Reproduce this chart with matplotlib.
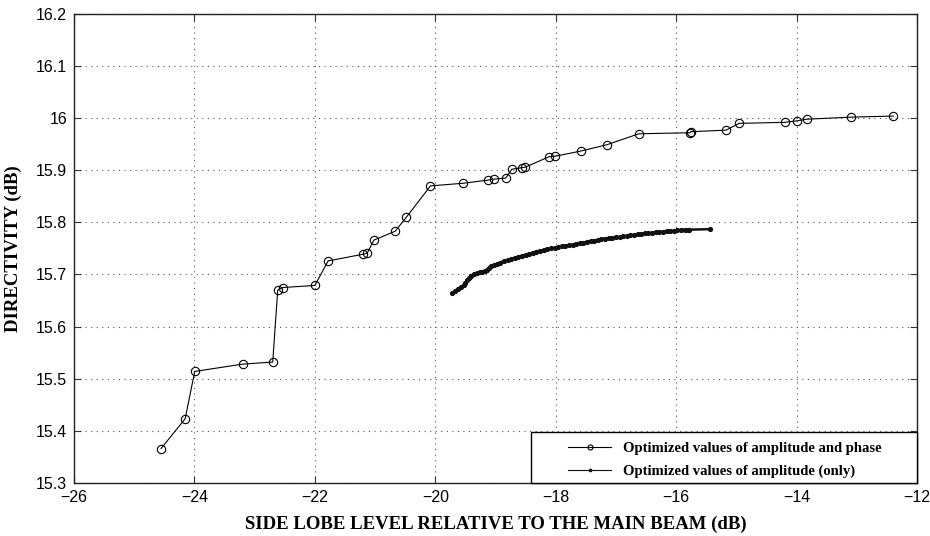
import matplotlib
matplotlib.use("Agg")
import matplotlib.pyplot as plt
from matplotlib.patches import Rectangle

# amplitude and phase optimised
sll_phase = [-24.555, -24.155, -23.995, -23.2, -22.70, -22.617, -22.53, -22.0, -21.78,
             -21.195, -21.13, -21.02, -20.667, -20.48, -20.08, -19.545, -19.13, -19.02,
             -18.83, -18.73, -18.56, -18.505, -18.11, -18.005, -17.58, -17.15, -16.62,
             -15.77, -15.76, -15.17, -14.955, -14.19, -13.99, -13.83, -13.09, -12.39]
dir_phase = [15.366, 15.423, 15.514, 15.528, 15.532, 15.670, 15.675, 15.679, 15.726,
             15.739, 15.741, 15.766, 15.783, 15.810, 15.870, 15.875, 15.881, 15.883,
             15.885, 15.902, 15.905, 15.906, 15.926, 15.927, 15.937, 15.949, 15.970,
             15.972, 15.974, 15.977, 15.990, 15.992, 15.995, 15.998, 16.002, 16.004]

# amplitude only
sll_amp = [-19.72, -19.67, -19.62, -19.57, -19.53, -19.50, -19.47, -19.44, -19.41, -19.36,
           -19.31, -19.26, -19.22, -19.18, -19.14, -19.11, -19.08, -19.03, -18.98, -18.92,
           -18.86, -18.80, -18.74, -18.68, -18.62, -18.56, -18.50, -18.44, -18.38, -18.32,
           -18.26, -18.20, -18.14, -18.08, -18.02, -17.96, -17.90, -17.84, -17.78, -17.72,
           -17.66, -17.60, -17.54, -17.48, -17.42, -17.36, -17.30, -17.24, -17.18, -17.12,
           -17.06, -17.00, -16.94, -16.88, -16.82, -16.76, -16.70, -16.64, -16.58, -16.52,
           -16.46, -16.40, -16.34, -16.28, -16.22, -16.16, -16.10, -16.04, -15.98, -15.92,
           -15.86, -15.81, -15.78, -15.44]
dir_amp = [15.664, 15.668, 15.673, 15.676, 15.679, 15.684, 15.689, 15.694, 15.698, 15.700,
           15.702, 15.704, 15.705, 15.707, 15.709, 15.713, 15.716, 15.718, 15.720, 15.723,
           15.726, 15.728, 15.730, 15.732, 15.734, 15.736, 15.738, 15.740, 15.742, 15.744,
           15.746, 15.747, 15.748, 15.750, 15.751, 15.753, 15.754, 15.755, 15.756, 15.757,
           15.759, 15.760, 15.761, 15.763, 15.764, 15.765, 15.766, 15.768, 15.769, 15.770,
           15.770, 15.771, 15.772, 15.773, 15.774, 15.775, 15.776, 15.777, 15.778, 15.779,
           15.779, 15.780, 15.781, 15.782, 15.782, 15.783, 15.784, 15.784, 15.785, 15.785,
           15.786, 15.786, 15.786, 15.787]

x_ticks = [-26, -24, -22, -20, -18, -16, -14, -12]
y_ticks = [15.3, 15.4, 15.5, 15.6, 15.7, 15.8, 15.9, 16.0, 16.1, 16.2]
y_tick_labels = ["15.3", "15.4", "15.5", "15.6", "15.7", "15.8", "15.9", "16", "16.1", "16.2"]

serif = "Liberation Serif"
sans = "Liberation Sans"

fig = plt.figure(figsize=(9.3, 5.36), dpi=100)
ax = fig.add_axes([0.0796, 0.099, 0.9064, 0.875])

ax.plot(sll_phase, dir_phase, color="black", lw=0.8, marker="o", ms=6,
        mfc="none", mec="black", mew=0.8,
        label="Optimized values of amplitude and phase")
# dense band of points: the markers overlap into a thick line
ax.plot(sll_amp, dir_amp, color="#111111", lw=1.8, marker=".", ms=5.5,
        label="Optimized values of amplitude (only)")

ax.set_xlim(-26, -12)
ax.set_ylim(15.3, 16.2)
ax.set_xticks(x_ticks)
ax.set_xticklabels([f"\u2212{abs(t)}" for t in x_ticks], family=sans, fontsize=11.5)
ax.set_yticks(y_ticks)
ax.set_yticklabels(y_tick_labels, family=sans, fontsize=11.5)
ax.tick_params(direction="in", top=True, right=True, length=5, width=0.8, pad=5, color="#333333")
ax.grid(True, linestyle=(0, (1, 4)), color="#555555", lw=0.8)

for s in ax.spines.values():
    s.set_linewidth(1.0)
    s.set_color("#222222")

ax.set_xlabel("SIDE LOBE LEVEL RELATIVE TO THE MAIN BEAM (dB)", family=serif,
              fontweight="bold", fontsize=13.5, labelpad=8)
ax.set_ylabel("DIRECTIVITY (dB)", family=serif, fontweight="bold", fontsize=13.5, labelpad=10)

# legend box: wider than the entries, as in the original
box = Rectangle((0.542, 0.0), 0.458, 0.1087, transform=ax.transAxes, facecolor="white",
                edgecolor="black", lw=1.0, zorder=4.5, clip_on=False)
ax.add_patch(box)
leg = ax.legend(loc="center left", bbox_to_anchor=(0.586, 0.049), borderaxespad=0,
                frameon=False, markerscale=0.6, borderpad=0,
                prop={"family": serif, "weight": "bold", "size": 10.5},
                handlelength=2.95, handletextpad=0.8, labelspacing=0.69)
leg.set_zorder(5)
for h in leg.get_lines():
    h.set_linewidth(0.8)

fig.savefig("out.png", dpi=100)
